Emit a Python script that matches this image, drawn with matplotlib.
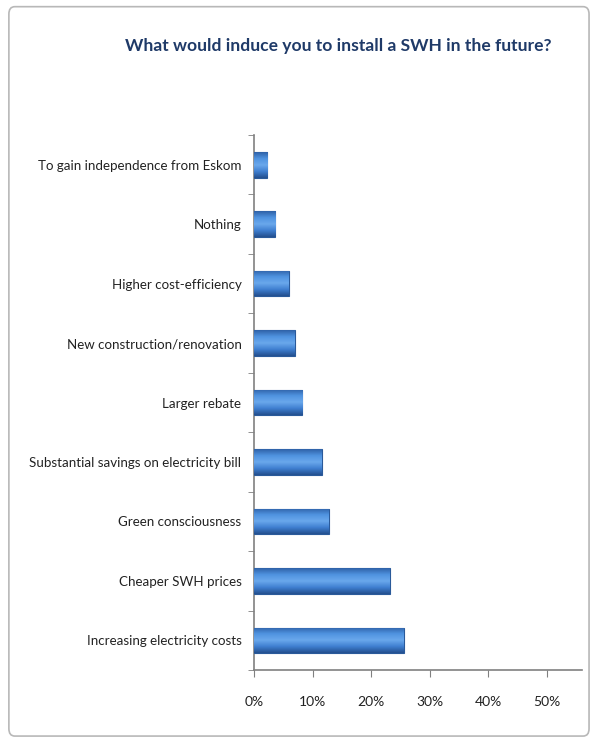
import numpy as np
import matplotlib
matplotlib.use("Agg")
import matplotlib.pyplot as plt
from matplotlib.patches import FancyBboxPatch
from matplotlib.ticker import FixedLocator, PercentFormatter
from matplotlib.colors import LinearSegmentedColormap

categories = [
    "Increasing electricity costs",
    "Cheaper SWH prices",
    "Green consciousness",
    "Substantial savings on electricity bill",
    "Larger rebate",
    "New construction/renovation",
    "Higher cost-efficiency",
    "Nothing",
    "To gain independence from Eskom",
]
values = [25.6, 23.2, 12.8, 11.6, 8.2, 7.0, 5.9, 3.6, 2.3]
x_ticks = [0, 10, 20, 30, 40, 50]

font = ["Lato", "DejaVu Sans"]

fig = plt.figure(figsize=(5.92, 7.42), dpi=100)
frame = FancyBboxPatch((0.015, 0.008), 0.98, 0.983, boxstyle="round,pad=0,rounding_size=0.01",
                       transform=fig.transFigure, facecolor="white", edgecolor="#b8b8b8", lw=1.2,
                       zorder=-10)
fig.patches.append(frame)

ax = fig.add_axes([0.429, 0.097, 0.554, 0.721])
ax.set_facecolor("none")
y = np.arange(len(categories))
bars = ax.barh(y, values, height=0.43, color="#3f7fd0", edgecolor="#2a5a9a", linewidth=0.8, zorder=3)

# gradient shading on bars
grad = np.linspace(0, 1, 64).reshape(-1, 1)
cmap = LinearSegmentedColormap.from_list("barg", ["#24508f", "#3f7fd0", "#6aa8ec", "#4f93e0", "#2f62a8"])
for b in bars:
    x0, y0 = b.get_x(), b.get_y()
    w, h = b.get_width(), b.get_height()
    im = ax.imshow(grad, cmap=cmap, aspect="auto", extent=[x0, x0 + w, y0, y0 + h],
                   origin="lower", zorder=4)
    im.set_clip_path(b)

ax.set_xlim(0, 56)
ax.set_ylim(-0.5, len(categories) - 0.5)
ax.set_aspect("auto")
ax.set_xticks(x_ticks)
ax.xaxis.set_major_formatter(PercentFormatter(decimals=0))
ax.set_yticks(y)
ax.set_yticklabels(categories)
ax.yaxis.set_minor_locator(FixedLocator(np.arange(-0.5, len(categories), 1.0)))
ax.tick_params(axis="y", which="major", length=0, pad=9, labelsize=9.6)
ax.tick_params(axis="y", which="minor", length=4, color="#808080")
ax.tick_params(axis="x", which="major", length=5, color="#808080", pad=14, labelsize=10)
for lab in ax.get_xticklabels() + ax.get_yticklabels():
    lab.set_family(font)
    lab.set_color("#222222")
for s in ["top", "right"]:
    ax.spines[s].set_visible(False)
for s in ["left", "bottom"]:
    ax.spines[s].set_color("#808080")
    ax.spines[s].set_linewidth(1.2)

fig.text(0.571, 0.938, "What would induce you to install a SWH in the future?", ha="center", va="center",
         fontsize=12.6, fontweight="bold", color="#1f3a68", family=font)

fig.savefig("out.png", dpi=100)
